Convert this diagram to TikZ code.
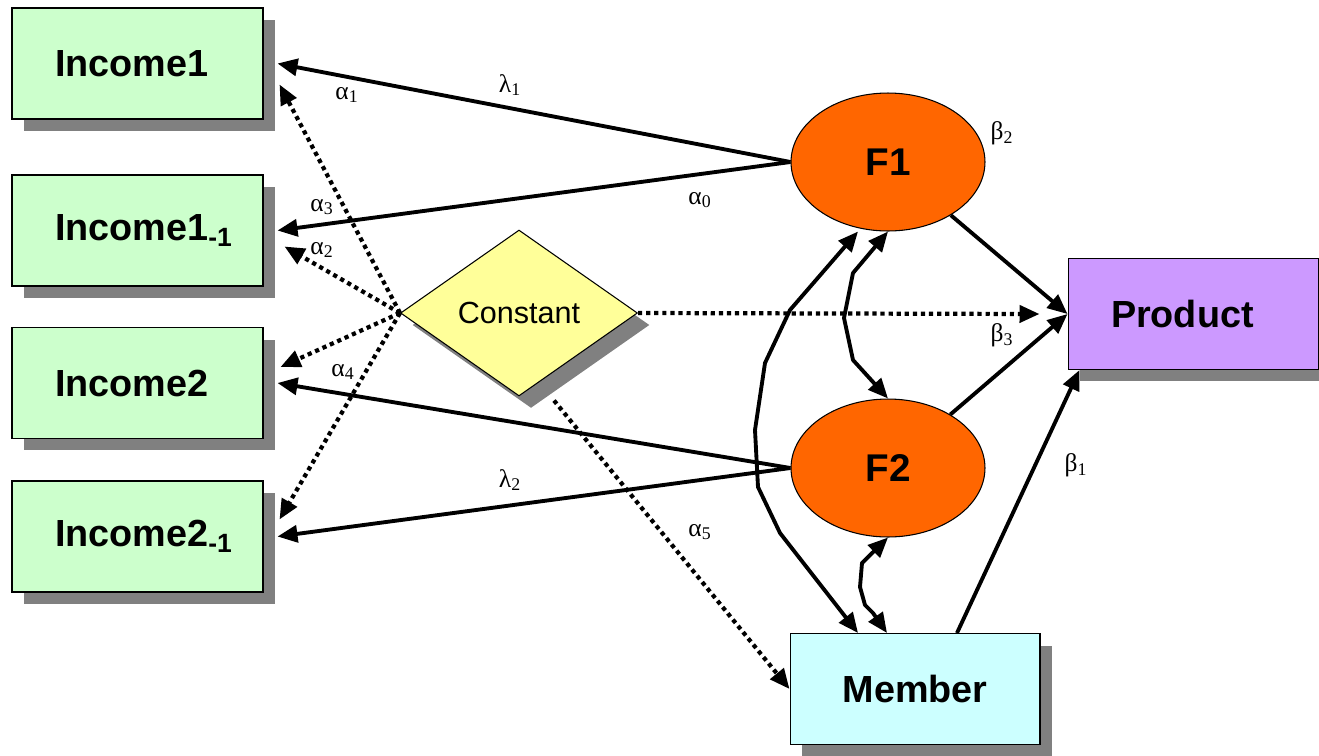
\documentclass[tikz,border=0pt]{standalone}
\usepackage{fontspec}
\setmainfont{Liberation Serif}
\newfontfamily\arial{Liberation Sans}
\usepackage{tikz}
\usetikzlibrary{arrows.meta}
\usetikzlibrary{shapes.geometric}
\usetikzlibrary{shadows}

\definecolor{incgreen}{RGB}{204,255,204}
\definecolor{membcyan}{RGB}{204,255,255}
\definecolor{prodpurple}{RGB}{204,153,255}
\definecolor{factorange}{RGB}{255,102,0}
\definecolor{constyellow}{RGB}{255,255,153}

\begin{document}
\begin{tikzpicture}[x=0.02cm,y=-0.02cm]
\tikzstyle{obs}=[rectangle,draw=black,line width=0.6pt,minimum width=5.02cm,minimum height=2.22cm,font=\arial\bfseries\fontsize{21.5}{25}\selectfont,drop shadow={shadow xshift=0.24cm,shadow yshift=-0.24cm,fill=black!50,opacity=1}]
\tikzstyle{lefttext}=[text width=3.3cm,align=left,inner sep=0pt]
\tikzstyle{lat}=[ellipse,draw=black,line width=0.6pt,fill=factorange,minimum width=3.88cm,minimum height=2.76cm,font=\arial\bfseries\fontsize{22}{25}\selectfont]
\tikzstyle{const}=[diamond,draw=black,line width=0.6pt,fill=constyellow,aspect=1.43,minimum width=4.74cm,minimum height=3.32cm,inner sep=0pt,font=\arial\fontsize{17.4}{20}\selectfont,drop shadow={shadow xshift=0.24cm,shadow yshift=-0.24cm,fill=black!50,opacity=1}]
\tikzstyle{link}=[line width=2.2pt,-{Triangle[length=0.4cm,width=0.34cm]}]
\tikzstyle{both}=[line width=2.2pt,line join=round,{Triangle[length=0.4cm,width=0.34cm]}-{Triangle[length=0.4cm,width=0.34cm]}]
\tikzstyle{dotlink}=[link,line width=2.4pt,dash pattern=on 2.4pt off 2.2pt]
\tikzstyle{coef}=[font=\fontsize{14.5}{16}\selectfont,inner sep=0pt]
\useasboundingbox (0,0) rectangle (1319,755);

\node[obs,lefttext,fill=incgreen] (i1) at (137.5,63.5) {Income1};
\node[obs,lefttext,fill=incgreen] (i1m) at (137.5,230.5) {Income1\textsubscript{-1}};
\node[obs,lefttext,fill=incgreen] (i2) at (137.5,383) {Income2};
\node[obs,lefttext,fill=incgreen] (i2m) at (137.5,536.5) {Income2\textsubscript{-1}};
\node[const] (c) at (519,313) {Constant};
\node[lat] (f1) at (888,162) {F1};
\node[lat] (f2) at (888,468) {F2};
\node[obs,lefttext,fill=prodpurple] (p) at (1193.5,314) {Product};
\node[obs,fill=membcyan,minimum width=5cm] (m) at (915,689) {Member};

% loadings
\draw[link] (f1.west) -- ([xshift=0.28cm]i1.east);
\draw[link] (f1.west) -- ([xshift=0.28cm]i1m.east);
\draw[link] (f2.west) -- ([xshift=0.28cm]i2.east);
\draw[link] (f2.west) -- ([xshift=0.28cm]i2m.east);
\draw[link] (f1) -- (p.west);
\draw[link] (f2) -- (p.west);
\draw[link] ([xshift=0.84cm]m.north) -- ([xshift=0.24cm]p.south west);

% covariances
\draw[both] ([xshift=-0.6cm]f1.south) -- (790,310) -- (765,363) -- (755,430) -- (758,487) -- (780,533) -- ([xshift=-1.14cm]m.north);
\draw[both] (f1.south) -- (853,273) -- (844,318) -- (853,360) -- (f2.north);
\draw[both] (f2.south) -- (862,563) -- (860,587) -- (865,605) -- (873,613) -- ([xshift=-0.56cm]m.north);

% constants
\draw[dotlink] (c.west) -- ([shift={(16,21)}]i1.east);
\draw[dotlink] (c.west) -- ([shift={(21,16)}]i1m.east);
\draw[dotlink] (c.west) -- ([shift={(17,-16)}]i2.east);
\draw[dotlink] (c.west) -- ([shift={(16,-17)}]i2m.east);
\draw[dotlink] (c.east) -- ([xshift=-0.56cm]p.west);
\draw[dotlink] ([shift={(35,4)}]c.south) -- (m.west);

\node[coef] (l1) at (510,85) {λ\textsubscript{1}};
\node[coef] (a1) at (347,95) {α\textsubscript{1}};
\node[coef] (b2) at (1002,133) {β\textsubscript{2}};
\node[coef] (a3) at (322,207) {α\textsubscript{3}};
\node[coef] (a0) at (700,200) {α\textsubscript{0}};
\node[coef] (a2) at (322,250) {α\textsubscript{2}};
\node[coef] (b3) at (1002,335) {β\textsubscript{3}};
\node[coef] (a4) at (343,372) {α\textsubscript{4}};
\node[coef] (l2) at (510,480) {λ\textsubscript{2}};
\node[coef] (a5) at (700,532) {α\textsubscript{5}};
\node[coef] (b1) at (1076,465) {β\textsubscript{1}};
\end{tikzpicture}
\end{document}
